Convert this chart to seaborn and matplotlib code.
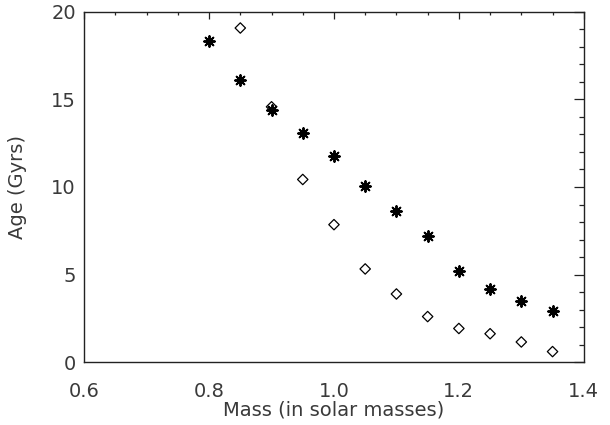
import numpy as np
import pandas as pd
import matplotlib
matplotlib.use("Agg")
import matplotlib.pyplot as plt
import seaborn as sns
from matplotlib.ticker import MultipleLocator

# Data
mass_star = [0.80, 0.85, 0.90, 0.95, 1.00, 1.05, 1.10, 1.15, 1.20, 1.25, 1.30, 1.35]
age_star = [18.34, 16.09, 14.40, 13.06, 11.77, 10.06, 8.64, 7.19, 5.21, 4.19, 3.51, 2.92]

mass_diam = [0.85, 0.90, 0.95, 1.00, 1.05, 1.10, 1.15, 1.20, 1.25, 1.30, 1.35]
age_diam = [19.08, 14.58, 10.43, 7.85, 5.32, 3.89, 2.60, 1.92, 1.62, 1.15, 0.60]

x_ticks = [0.6, 0.8, 1.0, 1.2, 1.4]
x_ticklabels = ["0.6", "0.8", "1.0", "1.2", "1.4"]

sns.set_style("white")
plt.rcParams['font.family'] = ['DejaVu Sans']

fig = plt.figure(figsize=(6.1, 4.25), dpi=100)
ax = fig.add_axes([0.138, 0.148, 0.819, 0.824])

df_star = pd.DataFrame({"mass": mass_star, "age": age_star})
df_diam = pd.DataFrame({"mass": mass_diam, "age": age_diam})

sns.scatterplot(data=df_diam, x="mass", y="age", ax=ax, marker="D", s=28,
                facecolor="none", edgecolor="black", linewidth=0.9)
sns.scatterplot(data=df_star, x="mass", y="age", ax=ax, marker=(8, 2, 0), s=60,
                color="black", edgecolor="black", linewidth=1.4)

ax.set_xlim(0.6, 1.4)
ax.set_ylim(0, 20)
ax.set_xticks(x_ticks)
ax.set_xticklabels(x_ticklabels)
ax.xaxis.set_minor_locator(MultipleLocator(0.05))
ax.yaxis.set_major_locator(MultipleLocator(5))
ax.yaxis.set_minor_locator(MultipleLocator(1))

ax.tick_params(which="both", direction="in", top=True, right=True,
               color="#222222", labelcolor="#3a3a3a", labelsize=14, width=0.9)
# IDL style: y ticks longer than x ticks
ax.tick_params(axis="x", which="major", length=5, pad=14)
ax.tick_params(axis="x", which="minor", length=2.5)
ax.tick_params(axis="y", which="major", length=7, pad=6)
ax.tick_params(axis="y", which="minor", length=3.5)
for sp in ax.spines.values():
    sp.set_color("#222222")
    sp.set_linewidth(1.0)

ax.set_xlabel("Mass (in solar masses)", fontsize=14, color="#3a3a3a", labelpad=0)
ax.set_ylabel("Age (Gyrs)", fontsize=14, color="#3a3a3a", labelpad=17)

fig.savefig("out.png", dpi=100)
